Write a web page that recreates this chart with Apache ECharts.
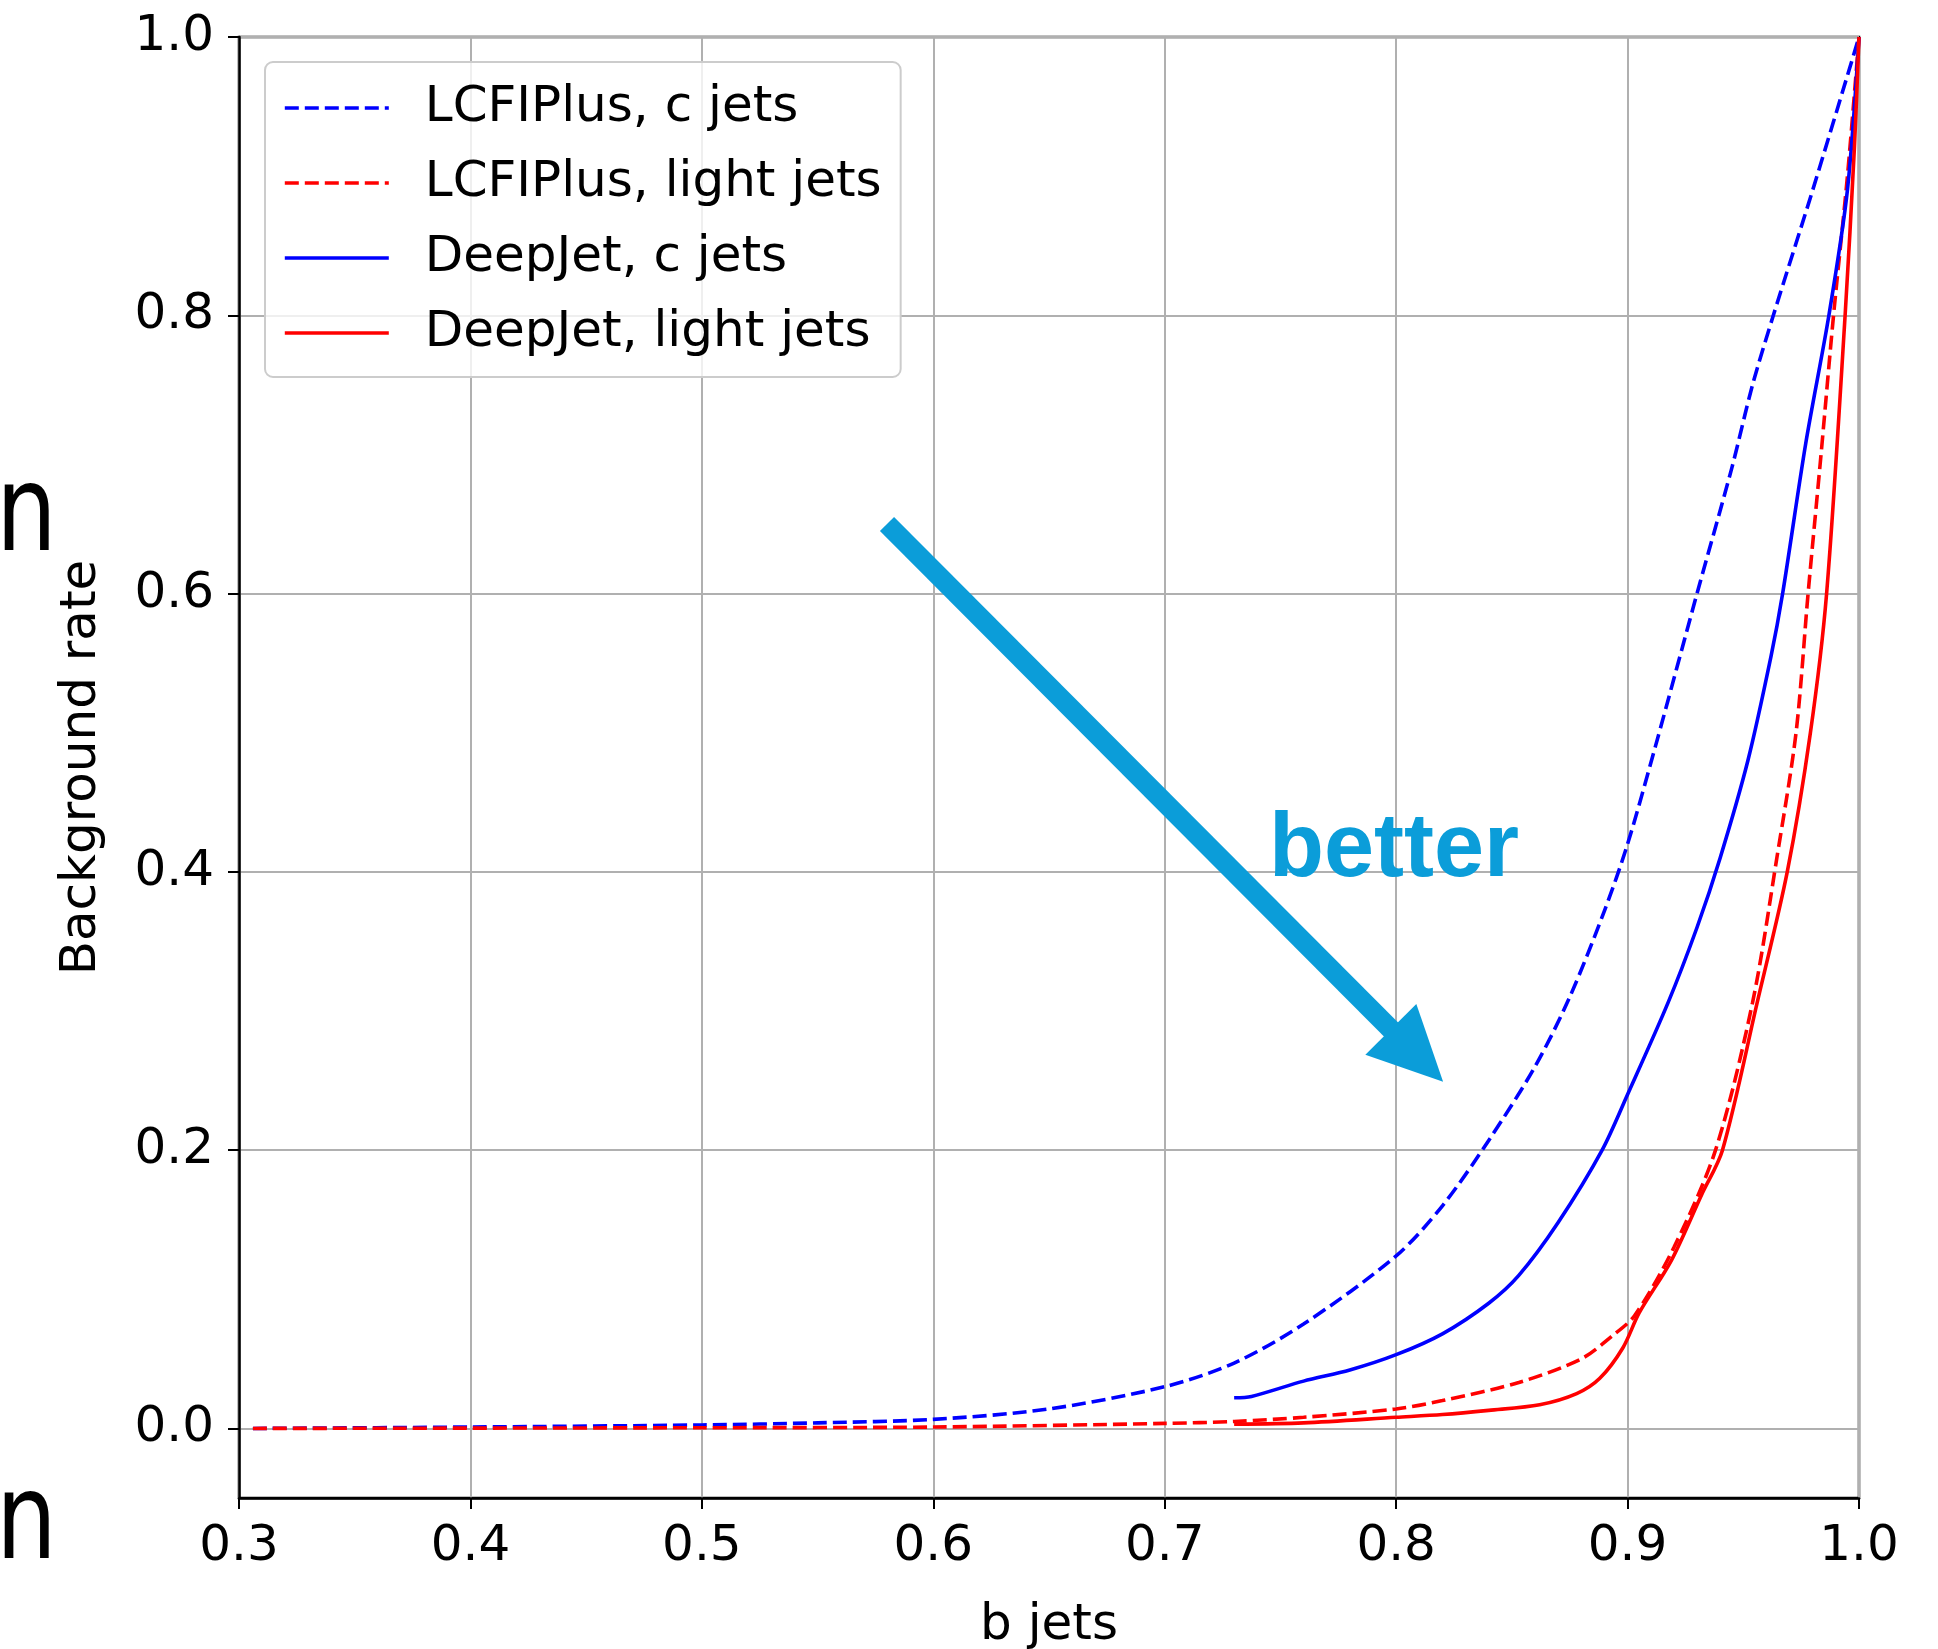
<!DOCTYPE html>
<html>

<head>
    <meta charset="utf-8">
    <script type="text/javascript" src="https://cdn.jsdelivr.net/npm/echarts@6.0.0/dist/echarts.min.js"></script>
    <title>Background rate vs b jets</title>
    <style>
        body { margin: 0; background: #fff; }
    </style>
</head>

<body>
    <div id="container" style="width:1938px;height:1649px;"></div>
    <script type="text/javascript">
    // b-jet efficiency (x) and background rate (y)
    var lcfiCX = [0.306, 0.40, 0.50, 0.55, 0.60, 0.65, 0.70, 0.73, 0.76, 0.80, 0.82, 0.84, 0.86, 0.875, 0.89, 0.90, 0.912, 0.93, 0.945, 0.954, 0.963, 0.98, 1.0];
    var lcfiCY = [0.0, 0.001, 0.0025, 0.004, 0.0065, 0.014, 0.030, 0.047, 0.075, 0.124, 0.16, 0.207, 0.26, 0.31, 0.372, 0.42, 0.49, 0.60, 0.69, 0.75, 0.80, 0.89, 1.0];

    var lcfiLX = [0.306, 0.50, 0.60, 0.70, 0.73, 0.76, 0.80, 0.82, 0.853, 0.88, 0.893, 0.903, 0.92, 0.938, 0.954, 0.9645, 0.9728, 0.978, 0.9836, 0.989, 0.995, 1.0];
    var lcfiLY = [0.0, 0.0005, 0.001, 0.0036, 0.005, 0.008, 0.014, 0.020, 0.033, 0.050, 0.066, 0.081, 0.13, 0.20, 0.306, 0.41, 0.50, 0.60, 0.70, 0.80, 0.90, 1.0];

    var deepCX = [0.730, 0.7375, 0.76, 0.78, 0.80, 0.82, 0.84, 0.853, 0.87, 0.889, 0.90, 0.9175, 0.93, 0.94, 0.952, 0.962, 0.967, 0.977, 0.987, 0.995, 1.0];
    var deepCY = [0.022, 0.023, 0.034, 0.042, 0.053, 0.068, 0.090, 0.110, 0.148, 0.20, 0.24, 0.306, 0.36, 0.41, 0.48, 0.555, 0.60, 0.708, 0.80, 0.89, 1.0];

    var deepLX = [0.730, 0.76, 0.80, 0.82, 0.84, 0.862, 0.878, 0.888, 0.898, 0.905, 0.919, 0.932, 0.941, 0.956, 0.969, 0.979, 0.986, 0.994, 0.998, 1.0];
    var deepLY = [0.003, 0.004, 0.008, 0.010, 0.013, 0.017, 0.025, 0.036, 0.058, 0.083, 0.121, 0.168, 0.20, 0.306, 0.40, 0.50, 0.60, 0.80, 0.92, 1.0];

    var seriesNames = ["LCFIPlus, c jets", "LCFIPlus, light jets", "DeepJet, c jets", "DeepJet, light jets"];
    var yTicks = [0.0, 0.2, 0.4, 0.6, 0.8, 1.0];

    // the "better" arrow, in data coordinates
    var arrowFrom = [0.58, 0.65];
    var arrowTo = [0.809, 0.268];

    function zip(xs, ys) {
        return xs.map(function (x, i) { return [x, ys[i]]; });
    }

    var font = "DejaVu Sans";
    var myChart = echarts.init(document.getElementById('container'));

    function curve(name, xs, ys, color, dashed) {
        return {
            name: name,
            type: "line",
            data: zip(xs, ys),
            symbol: "none",
            showSymbol: false,
            smooth: 0.3,
            lineStyle: { color: color, width: 3.6, type: dashed ? [14, 6] : "solid" },
            itemStyle: { color: color },
            emphasis: { disabled: true }
        };
    }

    var series = [
        curve(seriesNames[0], lcfiCX, lcfiCY, "#0000ff", true),
        curve(seriesNames[1], lcfiLX, lcfiLY, "#ff0000", true),
        curve(seriesNames[2], deepCX, deepCY, "#0000ff", false),
        curve(seriesNames[3], deepLX, deepLY, "#ff0000", false)
    ];

    // arrow pointing to the "better" corner
    series[0].markLine = {
        silent: true,
        animation: false,
        symbol: ["none", "triangle"],
        symbolSize: [72, 74],
        label: { show: false },
        lineStyle: { color: "#0b9dd9", width: 20, type: "solid" },
        emphasis: { disabled: true },
        data: [[{ coord: arrowFrom }, { coord: arrowTo }]]
    };

    var option = {
        animation: false,
        backgroundColor: "#ffffff",
        grid: {
            left: 239, right: 79, top: 37, bottom: 151,
            outerBoundsMode: "none",
            containLabel: false,
            show: true, borderColor: "#000", borderWidth: 2.5, backgroundColor: "transparent"
        },
        legend: {
            data: seriesNames,
            orient: "vertical",
            left: 265, top: 62,
            itemWidth: 104, itemHeight: 20, itemGap: 25,
            padding: [21, 19, 19, 18],
            backgroundColor: "rgba(255,255,255,0.8)",
            borderColor: "#cccccc", borderWidth: 2, borderRadius: 8,
            itemStyle: { color: "transparent", borderWidth: 0, opacity: 0 },
            lineStyle: { width: 3.6 },
            textStyle: { fontFamily: font, fontSize: 50, color: "#000", padding: [0, 0, 0, 31] }
        },
        xAxis: {
            type: "value",
            min: 0.3, max: 1.0, interval: 0.1,
            name: "b jets",
            nameLocation: "middle",
            nameGap: 103,
            nameTextStyle: { fontFamily: font, fontSize: 50, color: "#000" },
            axisLine: { show: true, onZero: false, lineStyle: { color: "#000", width: 2.5 } },
            axisTick: { show: true, length: 11, lineStyle: { color: "#000", width: 2 } },
            axisLabel: {
                fontFamily: font, fontSize: 50, color: "#000", margin: 24,
                formatter: function (v) { return v.toFixed(1); }
            },
            splitLine: { show: true, lineStyle: { color: "#b0b0b0", width: 2 } }
        },
        yAxis: {
            type: "value",
            min: -0.05, max: 1.0,
            name: "Background rate",
            nameLocation: "middle",
            nameGap: 132,
            nameTextStyle: { fontFamily: font, fontSize: 50, color: "#000" },
            axisLine: { show: true, onZero: false, lineStyle: { color: "#000", width: 2.5 } },
            axisTick: { show: true, length: 11, customValues: yTicks, lineStyle: { color: "#000", width: 2 } },
            axisLabel: {
                fontFamily: font, fontSize: 50, color: "#000", margin: 25,
                customValues: yTicks,
                formatter: function (v) { return v.toFixed(1); }
            },
            splitLine: { show: true, lineStyle: { color: "#b0b0b0", width: 2 } }
        },
        graphic: [
            {
                type: "text", x: 1269, y: 851, z: 100,
                style: { text: "better", font: 'bold 90px "Liberation Sans"', fill: "#0b9dd9", align: "left", verticalAlign: "middle" }
            },
            // letter fragments cut off at the left edge of the slide
            {
                type: "text", x: -4, y: 519, scaleX: 0.8,
                style: { text: "n", font: '120px "DejaVu Sans"', fill: "#000", align: "left", verticalAlign: "middle" }
            },
            {
                type: "text", x: -4, y: 1527, scaleX: 0.8,
                style: { text: "n", font: '120px "DejaVu Sans"', fill: "#000", align: "left", verticalAlign: "middle" }
            }
        ],
        series: series
    };

    myChart.setOption(option);
    </script>
</body>

</html>
